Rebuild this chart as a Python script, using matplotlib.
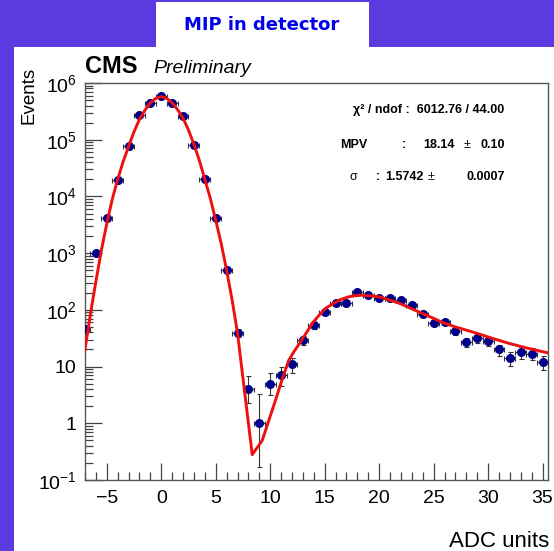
import numpy as np
import matplotlib.pyplot as plt
from matplotlib.patches import Rectangle
from matplotlib.ticker import MultipleLocator, FixedLocator, FixedFormatter, LogLocator, NullFormatter

plt.rcParams['font.family'] = ['Liberation Sans', 'DejaVu Sans']
plt.rcParams['mathtext.fontset'] = 'custom'
plt.rcParams['mathtext.rm'] = 'Liberation Sans'
plt.rcParams['mathtext.it'] = 'Liberation Sans:italic'
plt.rcParams['mathtext.bf'] = 'Liberation Sans:bold'

# histogram: bin centres (ADC units) and counts
adc = list(range(-7, 36))
counts = [46, 1000, 4200, 19500, 77000, 275000, 445000, 590000, 445000, 260000,
          82000, 20500, 4200, 500, 39, 4, 1, 5, 7, 11,
          29, 54, 91, 131, 131, 205, 180, 162, 165, 152,
          121, 86, 59, 61, 42, 27, 32, 28, 20, 14,
          18, 17, 12]

# low-count bins have asymmetric (Poisson) error bars
low_bins = [8, 9, 10, 11]
low_lo = [2.3, 0.17, 3.2, 4.5]
low_hi = [6.8, 3.3, 7.7, 10.0]

# fitted curve (gaussian pedestal + landau)
fit_x = [-7.0, -6.5, -6.0, -5.5, -5.0, -4.5, -4.0, -3.5, -3.0, -2.5, -2.0, -1.5,
         -1.0, -0.5, 0.0, 0.5, 1.0, 1.5, 2.0, 2.5, 3.0, 3.5, 4.0, 4.5, 5.0, 5.5,
         6.0, 6.5, 7.0, 8.35, 9.27, 10.5, 11.0, 11.7, 12.2, 12.7, 13.9, 14.5,
         15.1, 16.3, 17.2, 18.2, 19.0, 20.0, 21.8, 23.7, 25.0, 25.8, 27.0, 28.9,
         30.5, 31.9, 33.5, 35.5]
fit_y = [20, 85, 316, 1120, 3300, 8900, 20000, 41000, 76000, 138000, 229000, 331000,
         447000, 537000, 575000, 537000, 447000, 339000, 240000, 148000, 83000, 43000,
         20000, 9300, 3800, 1480, 500, 151, 39, 0.28, 0.50, 2.6, 5.2, 12.9, 18.6, 25.7,
         59, 81, 107, 148, 170, 182, 178, 170, 132, 91, 71, 60, 50, 39,
         31, 25.7, 21.4, 17.4]

chi2_text = "χ² / ndof :  6012.76 / 44.00"
mpv_row = ("MPV", "18.14", "0.10")
sigma_row = ("σ", "1.5742", "0.0007")

W, H = 554, 551
fig = plt.figure(figsize=(W / 100, H / 100), dpi=100)
fig.patch.set_facecolor('#5b3ae0')


def fx(px):
    return px / W


def fy(py):
    return 1 - py / H


# white panel and title box
fig.patches.append(Rectangle((fx(14), 0), 1 - fx(14), fy(47), transform=fig.transFigure,
                             facecolor='white', edgecolor='none', zorder=0))
fig.patches.append(Rectangle((fx(156), fy(47)), fx(369 - 156), 45 / H, transform=fig.transFigure,
                             facecolor='white', edgecolor='none', zorder=0))
fig.text(fx(262), fy(25), "MIP in detector", family='DejaVu Sans', weight='bold',
         color='#0000ee', fontsize=13, ha='center', va='center')

ax = fig.add_axes([fx(85), fy(480), fx(548 - 85), (480 - 83) / H])
ax.set_zorder(2)
ax.set_facecolor('white')

lo = [c - np.sqrt(c) for c in counts]
hi = [c + np.sqrt(c) for c in counts]
for b, l, h in zip(low_bins, low_lo, low_hi):
    i = adc.index(b)
    lo[i], hi[i] = l, h
yerr = [np.array(counts) - np.array(lo), np.array(hi) - np.array(counts)]

ax.errorbar(adc, counts, xerr=0.5, yerr=yerr, fmt='o', color='#00008b', markersize=5.5,
            ecolor='#333333', elinewidth=0.8, capsize=1.8, capthick=0.8, zorder=3)
ax.plot(fit_x, fit_y, color='#ee1010', lw=2.1, zorder=4)

ax.set_yscale('log')
ax.set_xlim(-7, 35.5)
ax.set_ylim(0.1, 1e6)

ax.xaxis.set_major_locator(MultipleLocator(5))
ax.xaxis.set_minor_locator(MultipleLocator(1))
yt = [1e-1, 1, 10, 1e2, 1e3, 1e4, 1e5, 1e6]
ax.yaxis.set_major_locator(FixedLocator(yt))
ax.yaxis.set_major_formatter(FixedFormatter([r'$10^{-1}$', '1', '10', r'$10^{2}$', r'$10^{3}$',
                                             r'$10^{4}$', r'$10^{5}$', r'$10^{6}$']))
ax.yaxis.set_minor_locator(LogLocator(base=10, subs=np.arange(2, 10), numticks=50))
ax.yaxis.set_minor_formatter(NullFormatter())

ax.tick_params(which='both', direction='in', top=False, right=False, color='#444444',
               labelsize=14, width=0.9)
ax.tick_params(which='major', length=12)
ax.tick_params(which='minor', length=6)
ax.tick_params(axis='x', pad=7)
ax.tick_params(axis='y', pad=6)
for s in ax.spines.values():
    s.set_color('#555555')
    s.set_linewidth(1.0)

# labels
fig.text(fx(29), fy(67), "Events", rotation=90, fontsize=13.5, ha='center', va='top')
fig.text(fx(549), fy(547), "ADC units", fontsize=16, ha='right', va='baseline')
fig.text(fx(85), fy(73), "CMS", fontsize=17, weight='bold', ha='left', va='baseline')
fig.text(fx(153), fy(73), "Preliminary", fontsize=14, style='italic', ha='left', va='baseline')

# fit statistics
fig.text(fx(504), fy(110), chi2_text, fontsize=9, weight='bold', ha='right', va='center')

name, val, err = mpv_row
fig.text(fx(340), fy(145), name, fontsize=9, weight='bold', ha='left', va='center')
fig.text(fx(402), fy(145), ":", fontsize=9, weight='bold', ha='left', va='center')
fig.text(fx(455), fy(145), val, fontsize=9, weight='bold', ha='right', va='center')
fig.text(fx(464), fy(145), "±", fontsize=9, ha='left', va='center')
fig.text(fx(505), fy(145), err, fontsize=9, weight='bold', ha='right', va='center')

name, val, err = sigma_row
fig.text(fx(350), fy(177), name, fontsize=9, ha='left', va='center')
fig.text(fx(376), fy(177), ":", fontsize=9, weight='bold', ha='left', va='center')
fig.text(fx(385), fy(177), val, fontsize=9, weight='bold', ha='left', va='center')
fig.text(fx(428), fy(177), "±", fontsize=9, ha='left', va='center')
fig.text(fx(505), fy(177), err, fontsize=9, weight='bold', ha='right', va='center')

fig.savefig('out.png', dpi=100, facecolor=fig.get_facecolor())
